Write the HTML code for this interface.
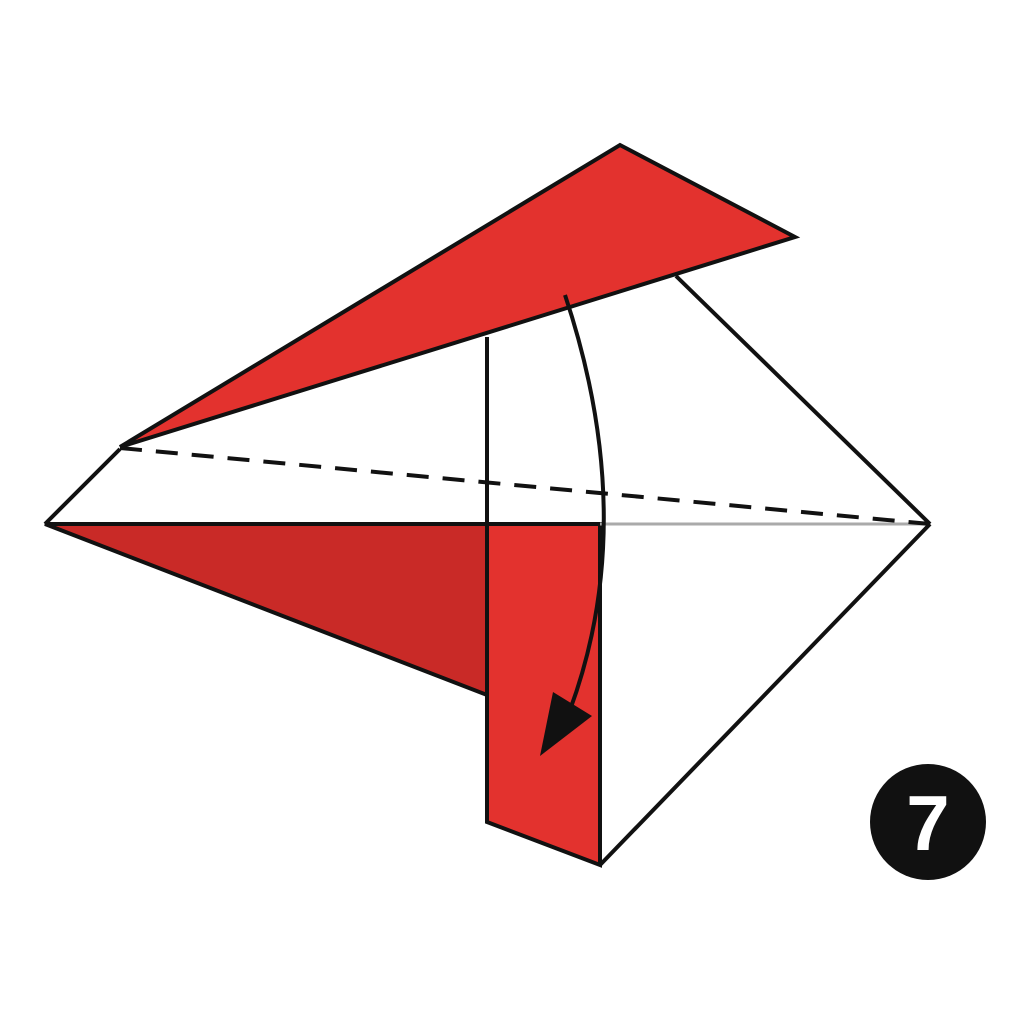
<!DOCTYPE html>
<html><head><meta charset="utf-8"><style>
html,body{margin:0;padding:0;background:#fff;width:1024px;height:1024px;overflow:hidden}
</style></head><body>
<svg width="1024" height="1024" viewBox="0 0 1024 1024">
  <!-- white kite body -->
  <polygon points="120,447 45,524 487,524 487,337 676,276 930,524 600,865 487,822" fill="#fff"/>
  <!-- top red flap -->
  <polygon points="120,447 620,145 795,237" fill="#e3322e" stroke="#111" stroke-width="4" stroke-linejoin="miter"/>
  <!-- lower-left dark red triangle -->
  <polygon points="45,524 487,524 487,695" fill="#c92a27" stroke="#111" stroke-width="4"/>
  <!-- red strip -->
  <polygon points="487,524 600,524 600,865 487,822" fill="#e3322e" stroke="#111" stroke-width="4"/>
  <!-- outline lines -->
  <line x1="45" y1="524" x2="120" y2="449" stroke="#111" stroke-width="4"/>
  <line x1="676" y1="276" x2="930" y2="524" stroke="#111" stroke-width="4"/>
  <line x1="930" y1="524" x2="600" y2="865" stroke="#111" stroke-width="4"/>
  <line x1="487" y1="337" x2="487" y2="822" stroke="#111" stroke-width="4"/>
  <line x1="45" y1="524" x2="600" y2="524" stroke="#111" stroke-width="4"/>
  <line x1="600" y1="524" x2="928" y2="524" stroke="#aaa" stroke-width="3"/>
  <line x1="120" y1="448" x2="930" y2="524" stroke="#111" stroke-width="4" stroke-dasharray="22,14"/>
  <!-- arrow -->
  <path d="M565,295 Q640,520 570,710" fill="none" stroke="#111" stroke-width="4"/>
  <polygon points="540,756 553,692 592,716" fill="#111"/>
  <!-- step badge -->
  <circle cx="928" cy="822" r="58" fill="#111"/>
  <text x="928" y="850" text-anchor="middle" font-family="Liberation Sans, sans-serif" font-weight="bold" font-size="78" fill="#fff">7</text>
</svg>
</body></html>
